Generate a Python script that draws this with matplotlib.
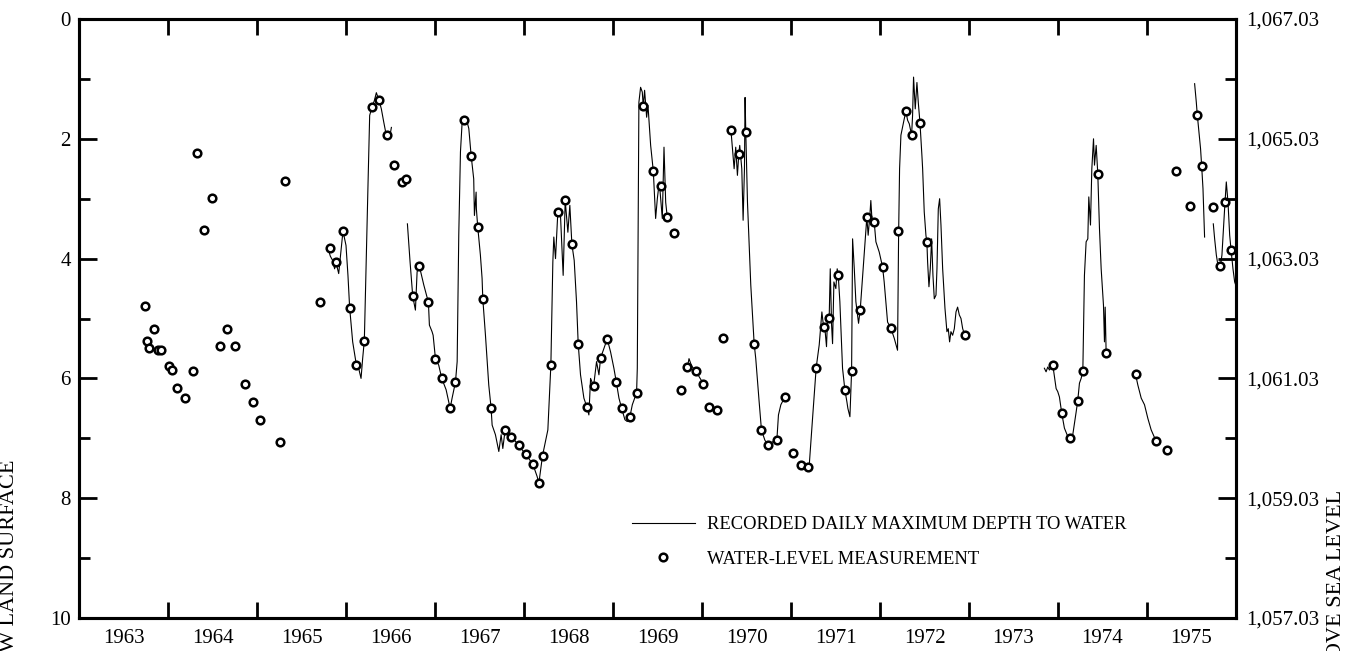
"""
Hydrograph: daily max depth to water + periodic water-level measurements, 1963-1975
"""
import matplotlib.pyplot as plt
import numpy as np

plt.rcParams['font.family'] = ['Liberation Serif', 'DejaVu Serif']
plt.rcParams['font.size'] = 15

LAND_ALT = 1067.03   # land surface altitude, ft

# periodic water-level measurements (decimal year, depth ft)
meas_year = [1963.739, 1963.761, 1963.787, 1963.840, 1963.889, 1963.926, 1964.009, 1964.050,
             1964.099, 1964.196, 1964.282, 1964.331, 1964.410, 1964.492, 1964.586, 1964.665,
             1964.751, 1964.864, 1964.950, 1965.036, 1965.254, 1965.314, 1965.711, 1965.816,
             1965.887, 1965.966, 1966.041, 1966.116, 1966.206, 1966.292, 1966.371, 1966.465,
             1966.540, 1966.634, 1966.679, 1966.750, 1966.825, 1966.926, 1967.005, 1967.076,
             1967.170, 1967.230, 1967.327, 1967.406, 1967.480, 1967.537, 1967.630, 1967.788,
             1967.859, 1967.942, 1968.020, 1968.099, 1968.167, 1968.208, 1968.302, 1968.380,
             1968.463, 1968.538, 1968.609, 1968.707, 1968.782, 1968.860, 1968.935, 1969.037,
             1969.097, 1969.190, 1969.265, 1969.340, 1969.453, 1969.535, 1969.610, 1969.689,
             1969.761, 1969.836, 1969.933, 1970.016, 1970.083, 1970.166, 1970.241, 1970.327,
             1970.413, 1970.492, 1970.586, 1970.668, 1970.743, 1970.841, 1970.931, 1971.028,
             1971.107, 1971.186, 1971.283, 1971.366, 1971.429, 1971.531, 1971.606, 1971.681,
             1971.778, 1971.852, 1971.935, 1972.029, 1972.122, 1972.205, 1972.291, 1972.355,
             1972.449, 1972.527, 1972.951, 1973.941, 1974.042, 1974.136, 1974.222, 1974.279,
             1974.447, 1974.541, 1974.871, 1975.100, 1975.227, 1975.329, 1975.482, 1975.565,
             1975.614, 1975.745, 1975.824, 1975.880, 1975.944]
meas_depth = [4.79, 5.38, 5.50, 5.17, 5.53, 5.53, 5.79, 5.86,
              6.16, 6.32, 5.88, 2.24, 3.53, 2.98, 5.46, 5.17,
              5.46, 6.10, 6.39, 6.70, 7.07, 2.70, 4.72, 3.82,
              4.06, 3.54, 4.82, 5.77, 5.37, 1.47, 1.36, 1.94,
              2.43, 2.72, 2.67, 4.63, 4.13, 4.73, 5.67, 6.00,
              6.50, 6.06, 1.68, 2.28, 3.47, 4.67, 6.49, 6.86,
              6.97, 7.12, 7.27, 7.43, 7.75, 7.29, 5.77, 3.23,
              3.03, 3.76, 5.42, 6.48, 6.13, 5.66, 5.34, 6.06,
              6.50, 6.64, 6.24, 1.46, 2.54, 2.78, 3.31, 3.57,
              6.19, 5.81, 5.88, 6.09, 6.47, 6.53, 5.32, 1.85,
              2.26, 1.89, 5.42, 6.86, 7.12, 7.03, 6.31, 7.25,
              7.45, 7.48, 5.82, 5.14, 4.99, 4.28, 6.20, 5.87,
              4.85, 3.31, 3.39, 4.14, 5.16, 3.54, 1.54, 1.94,
              1.73, 3.73, 5.27, 5.77, 6.58, 7.00, 6.37, 5.88,
              2.58, 5.58, 5.93, 7.04, 7.19, 2.54, 3.13, 1.60,
              2.45, 3.14, 4.13, 3.05, 3.85]

# recorder segments (daily maximum depth)
rec1_year = [1965.798, 1965.824, 1965.850, 1965.872, 1965.887, 1965.918, 1965.966, 1966.000,
             1966.022, 1966.041, 1966.075, 1966.116, 1966.142, 1966.169, 1966.187, 1966.206,
             1966.225, 1966.247, 1966.266, 1966.292, 1966.319, 1966.341, 1966.371, 1966.397,
             1966.424, 1966.450, 1966.465, 1966.491, 1966.510]
rec1_depth = [3.83, 3.96, 4.03, 4.17, 4.06, 4.25, 3.54, 3.78,
              4.28, 4.82, 5.39, 5.77, 5.83, 6.00, 5.67, 5.37,
              4.17, 2.78, 1.61, 1.47, 1.36, 1.23, 1.36, 1.50,
              1.72, 1.92, 1.94, 1.97, 1.81]

rec2_year = [1966.690, 1966.720, 1966.750, 1966.780, 1966.799, 1966.825, 1966.874, 1966.926,
             1966.937, 1966.967, 1966.979, 1967.005, 1967.042, 1967.076, 1967.125, 1967.170,
             1967.192, 1967.230, 1967.249, 1967.267, 1967.286, 1967.305, 1967.327, 1967.361,
             1967.380, 1967.406, 1967.435, 1967.443, 1967.462, 1967.465, 1967.480, 1967.510,
             1967.529, 1967.537, 1967.567, 1967.604, 1967.630, 1967.642, 1967.679, 1967.717,
             1967.743, 1967.762, 1967.788, 1967.859, 1967.942, 1968.020, 1968.099, 1968.148,
             1968.167, 1968.208, 1968.268, 1968.302, 1968.324, 1968.335, 1968.354, 1968.380,
             1968.410, 1968.440, 1968.463, 1968.493, 1968.515, 1968.538, 1968.564, 1968.590,
             1968.609, 1968.635, 1968.673, 1968.707, 1968.729, 1968.748, 1968.782, 1968.815,
             1968.842, 1968.860, 1968.898, 1968.935, 1968.973, 1969.010, 1969.037, 1969.067,
             1969.097, 1969.134, 1969.160, 1969.190, 1969.217, 1969.265, 1969.273, 1969.291,
             1969.310, 1969.329, 1969.340, 1969.355, 1969.378, 1969.393, 1969.423, 1969.453,
             1969.479, 1969.498, 1969.520, 1969.554, 1969.573, 1969.592, 1969.610]
rec2_depth = [3.42, 4.06, 4.63, 4.86, 4.22, 4.13, 4.44, 4.73,
              5.11, 5.22, 5.28, 5.67, 5.78, 6.00, 6.19, 6.50,
              6.33, 6.06, 5.72, 3.61, 2.22, 1.72, 1.68, 1.72,
              1.83, 2.28, 2.67, 3.28, 2.89, 3.17, 3.47, 3.94,
              4.33, 4.67, 5.28, 6.11, 6.49, 6.78, 6.94, 7.22,
              6.94, 7.17, 6.86, 6.97, 7.12, 7.27, 7.43, 7.64,
              7.75, 7.29, 6.86, 5.77, 4.06, 3.64, 4.00, 3.23,
              3.28, 4.28, 3.03, 3.56, 3.11, 3.76, 4.03, 4.72,
              5.42, 5.94, 6.33, 6.48, 6.61, 6.00, 6.13, 5.72,
              5.94, 5.66, 5.50, 5.34, 5.56, 5.83, 6.06, 6.33,
              6.50, 6.69, 6.72, 6.64, 6.44, 6.24, 5.83, 1.39,
              1.14, 1.22, 1.46, 1.19, 1.64, 1.44, 2.11, 2.54,
              3.33, 3.00, 2.72, 3.33, 2.14, 3.06, 3.31]

rec3_year = [1969.836, 1969.854, 1969.873, 1969.892, 1969.933, 1969.967, 1970.016]
rec3_depth = [5.81, 5.67, 5.75, 5.81, 5.88, 5.97, 6.09]

rec4_year = [1970.327, 1970.361, 1970.379, 1970.398, 1970.413, 1970.424, 1970.447, 1970.462,
             1970.477, 1970.484, 1970.492, 1970.511, 1970.548, 1970.586, 1970.604, 1970.642,
             1970.668, 1970.706, 1970.743, 1970.792, 1970.841, 1970.859, 1970.886, 1970.931]
rec4_depth = [1.89, 2.50, 2.14, 2.61, 2.26, 2.11, 2.50, 3.36,
              2.50, 1.31, 1.89, 3.06, 4.44, 5.42, 5.67, 6.39,
              6.86, 7.03, 7.12, 7.06, 7.03, 6.61, 6.44, 6.31]

rec5_year = [1971.204, 1971.242, 1971.283, 1971.317, 1971.347, 1971.366, 1971.384, 1971.399,
             1971.411, 1971.429, 1971.441, 1971.456, 1971.467, 1971.482, 1971.504, 1971.519,
             1971.531, 1971.549, 1971.579, 1971.606, 1971.628, 1971.639, 1971.662, 1971.681,
             1971.692, 1971.711, 1971.729, 1971.759, 1971.778, 1971.852, 1971.867, 1971.886,
             1971.897, 1971.909, 1971.935, 1971.954, 1971.991, 1972.029, 1972.047, 1972.085,
             1972.122, 1972.160, 1972.197, 1972.209, 1972.220, 1972.235, 1972.272, 1972.291,
             1972.310, 1972.329, 1972.355, 1972.366, 1972.377, 1972.396, 1972.415, 1972.430,
             1972.449, 1972.471, 1972.479, 1972.497, 1972.516, 1972.527, 1972.535, 1972.550,
             1972.565, 1972.580, 1972.595, 1972.610, 1972.629, 1972.640, 1972.655, 1972.670,
             1972.685, 1972.704, 1972.730, 1972.752, 1972.767, 1972.782, 1972.797, 1972.816,
             1972.835, 1972.854, 1972.872, 1972.891, 1972.910, 1972.929, 1972.951]
rec5_depth = [7.47, 6.67, 5.82, 5.44, 4.89, 5.14, 5.22, 5.47,
              4.97, 4.99, 4.17, 5.11, 5.42, 4.39, 4.50, 4.17,
              4.28, 4.72, 5.83, 6.20, 6.39, 6.50, 6.64, 5.87,
              3.67, 4.17, 4.72, 5.08, 4.85, 3.31, 3.61, 3.28,
              3.03, 3.33, 3.39, 3.72, 3.89, 4.14, 4.39, 5.06,
              5.16, 5.33, 5.53, 3.61, 2.50, 1.94, 1.67, 1.54,
              1.69, 1.75, 1.94, 1.61, 0.97, 1.50, 1.06, 1.39,
              1.73, 2.28, 2.50, 3.22, 3.61, 3.73, 4.06, 4.47,
              4.17, 3.67, 4.28, 4.67, 4.61, 4.17, 3.17, 3.00,
              3.44, 4.17, 4.83, 5.22, 5.17, 5.39, 5.22, 5.28,
              5.17, 4.89, 4.81, 4.94, 5.00, 5.17, 5.27]

rec6_year = [1973.847, 1973.866, 1973.885, 1973.904, 1973.941, 1973.979, 1973.997, 1974.016,
             1974.042, 1974.072, 1974.110, 1974.136, 1974.166, 1974.204, 1974.222, 1974.241,
             1974.260, 1974.279, 1974.297, 1974.316, 1974.335, 1974.346, 1974.365, 1974.380,
             1974.399, 1974.410, 1974.429, 1974.447, 1974.466, 1974.485, 1974.511, 1974.522,
             1974.530, 1974.541]
rec6_depth = [5.83, 5.89, 5.81, 5.86, 5.77, 6.17, 6.22, 6.31,
              6.58, 6.83, 6.97, 7.00, 6.94, 6.56, 6.37, 6.08,
              6.00, 5.88, 4.28, 3.72, 3.67, 2.97, 3.44, 2.50,
              2.00, 2.44, 2.11, 2.58, 3.50, 4.17, 4.78, 5.39,
              4.81, 5.58]

rec7_year = [1974.871, 1974.897, 1974.935, 1974.972, 1975.010, 1975.047, 1975.100]
rec7_depth = [5.93, 6.11, 6.33, 6.44, 6.67, 6.86, 7.04]

rec8_year = [1975.535, 1975.554, 1975.565, 1975.580, 1975.602, 1975.614, 1975.629, 1975.647]
rec8_depth = [1.08, 1.39, 1.60, 1.83, 2.17, 2.45, 2.83, 3.64]

rec9_year = [1975.745, 1975.760, 1975.779, 1975.797, 1975.824, 1975.842, 1975.872, 1975.891,
             1975.910, 1975.929, 1975.944, 1975.966, 1975.985, 1976.004]
rec9_depth = [3.42, 3.67, 3.94, 4.11, 4.13, 3.94, 3.17, 2.72,
              3.06, 3.61, 3.85, 4.17, 4.39, 4.47]

segments = [(rec1_year, rec1_depth), (rec2_year, rec2_depth), (rec3_year, rec3_depth),
            (rec4_year, rec4_depth), (rec5_year, rec5_depth), (rec6_year, rec6_depth),
            (rec7_year, rec7_depth), (rec8_year, rec8_depth), (rec9_year, rec9_depth)]

year_labels = [str(y) for y in range(1963, 1976)]

fig = plt.figure(figsize=(13.70, 6.51), dpi=100)
ax = fig.add_axes([79/1370, 1 - 618/651, (1236 - 79)/1370, (618 - 19)/651])

# recorder trace
for k, (yr, dp) in enumerate(segments):
    ax.plot(yr, dp, '-', color='black', lw=0.8,
            label='RECORDED DAILY MAXIMUM DEPTH TO WATER' if k == 0 else None)
# measurements
ax.plot(meas_year, meas_depth, 'o', ms=5.5, mfc='white', mec='black', mew=1.8,
        label='WATER-LEVEL MEASUREMENT', zorder=5)

ax.set_xlim(1963, 1976)
ax.set_ylim(10, 0)

# x: ticks on year boundaries, labels centered in each year
ax.set_xticks(range(1964, 1976), labels=[])
ax.set_xticks(np.arange(1963.5, 1976, 1.0), labels=year_labels, minor=True)
ax.tick_params(axis='x', which='major', direction='in', top=True, bottom=True,
               length=11.5, width=2)
ax.tick_params(axis='x', which='minor', length=0, pad=8, top=False)

ax.set_yticks(range(0, 11, 2))
ax.set_yticks(range(1, 10, 2), minor=True)
ax.tick_params(axis='y', which='major', direction='in', length=13, width=2, pad=6)
ax.tick_params(axis='y', which='minor', direction='in', length=8, width=2)

for sp in ax.spines.values():
    sp.set_linewidth(2.2)

# right axis: altitude
ax2 = ax.twinx()
ax2.set_ylim(LAND_ALT - 10, LAND_ALT)
ax2.set_yticks([LAND_ALT - d for d in range(0, 11, 2)])
ax2.set_yticks([LAND_ALT - d for d in range(1, 10, 2)], minor=True)
ax2.yaxis.set_major_formatter(plt.FuncFormatter(lambda v, p: '{:,.2f}'.format(v)))
ax2.tick_params(axis='y', which='major', direction='in', length=13, width=2, pad=7)
ax2.tick_params(axis='y', which='minor', direction='in', length=8, width=2)
for sp in ax2.spines.values():
    sp.set_linewidth(2.2)

# axis titles (run off the bottom of the figure in the original)
fig.text(9/1370, 1 - 460/651, 'DEPTH TO WATER, IN FEET BELOW LAND SURFACE',
         rotation=90, ha='center', va='top', fontsize=16)
fig.text(1336/1370, 1 - 490/651, 'ALTITUDE OF WATER LEVEL, IN FEET ABOVE SEA LEVEL',
         rotation=90, ha='center', va='top', fontsize=16)

ax.legend(loc='upper left', bbox_to_anchor=(632/1370, 1 - 516/651),
          bbox_transform=fig.transFigure, frameon=False, borderpad=0,
          borderaxespad=0, handlelength=3.4, handletextpad=0.65,
          labelspacing=0.95, fontsize=13.3)

fig.savefig('out.png', dpi=100)
